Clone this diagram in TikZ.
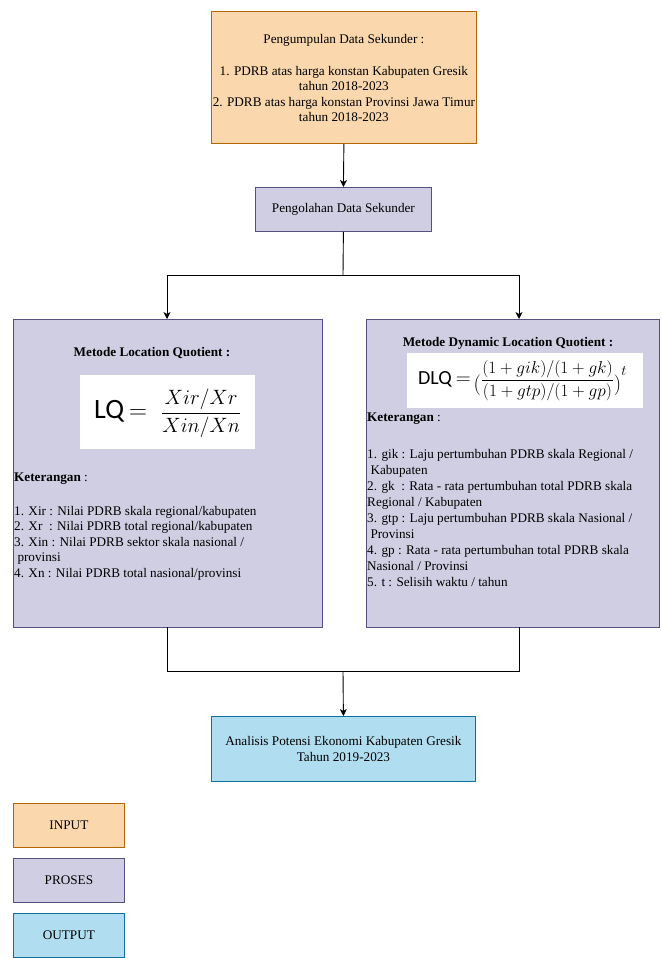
\documentclass[tikz,border=0pt]{standalone}
\usepackage{amsmath}
\usepackage{fontspec}
\setmainfont{Liberation Serif}
\newfontfamily\calib{Carlito}
\usetikzlibrary{arrows.meta}
\definecolor{inF}{HTML}{FAD7AC}
\definecolor{inS}{HTML}{B46504}
\definecolor{prF}{HTML}{D0CEE2}
\definecolor{prS}{HTML}{56517E}
\definecolor{outF}{HTML}{B1DDF0}
\definecolor{outS}{HTML}{10739E}
\tikzset{
  txt/.style={font=\fontsize{13.2}{15.5}\selectfont, inner sep=0pt},
  boxbase/.style={anchor=north west, line width=0.8pt, txt, align=center},
  inbox/.style={boxbase, draw=inS, fill=inF},
  prbox/.style={boxbase, draw=prS, fill=prF},
  outbox/.style={boxbase, draw=outS, fill=outF},
  wbox/.style={fill=white, draw=none, anchor=north west},
  link/.style={line width=0.9pt, black},
  arr/.style={link, -{Stealth[length=7pt,width=7pt,inset=2pt]}},
}
\begin{document}
\begin{tikzpicture}[x=1pt,y=-1pt]
\useasboundingbox (0,0) rectangle (661,958);

% top input box
\node[inbox, minimum width=265pt, minimum height=132pt] (collect) at (211,11) {};
\node[txt, align=center] (collecttxt) at ([yshift=-1pt]collect.center)
 {Pengumpulan Data Sekunder :\\[16pt]
  1. PDRB atas harga konstan Kabupaten Gresik\\
  tahun 2018-2023\\
  2. PDRB atas harga konstan Provinsi Jawa Timur\\
  tahun 2018-2023};

% processing box
\node[prbox, minimum width=176pt, minimum height=44pt] (proc) at (255,187)
 {Pengolahan Data Sekunder};

% left big box
\node[prbox, minimum width=309pt, minimum height=308pt] (lq) at (13,319) {};
% right big box
\node[prbox, minimum width=293pt, minimum height=308pt] (dlq) at (366,319) {};

% output box
\node[outbox, minimum width=264pt, minimum height=65pt] (out) at (211,716)
 {Analisis Potensi Ekonomi Kabupaten Gresik\\Tahun 2019-2023};

% legend
\node[inbox, minimum width=111pt, minimum height=44pt] (legin) at (13,803) {INPUT};
\node[prbox, minimum width=111pt, minimum height=44pt] (legpr) at (13,858) {PROSES};
\node[outbox, minimum width=111pt, minimum height=44pt] (legout) at (13,913) {OUTPUT};

% left box content
\node[txt, font=\fontsize{13.2}{15.5}\selectfont\bfseries] (lqtitle) at (152,353) {Metode Location Quotient :};
\node[wbox, minimum width=175pt, minimum height=74pt] (lqimg) at (80,375) {};
\node[inner sep=0pt] (lqf) at ([yshift=-1pt]lqimg.center)
 {\fontsize{28}{32}\selectfont{\calib LQ}\hspace{5pt}{\fontsize{26}{30}\selectfont$=$}\hspace{14pt}{\fontsize{21}{26}\selectfont$\dfrac{Xir/Xr}{Xin/Xn}$}};
\node[txt, anchor=north west, align=left] (lqnote) at (14,473)
 {\textbf{Keterangan} :\\[18pt]
  1. Xir : Nilai PDRB skala regional/kabupaten\\
  2. Xr\ \ : Nilai PDRB total regional/kabupaten\\
  3. Xin : Nilai PDRB sektor skala nasional /\\
  \ provinsi\\
  4. Xn : Nilai PDRB total nasional/provinsi};

% right box content
\node[txt, font=\fontsize{13.2}{15.5}\selectfont\bfseries] (dlqtitle) at (508,343) {Metode Dynamic Location Quotient :};
\node[wbox, minimum width=236pt, minimum height=55pt] (dlqimg) at (407,353) {};
\node[inner sep=0pt] (dlqf) at ([xshift=-3pt,yshift=0pt]dlqimg.center)
 {\fontsize{20}{24}\selectfont{\calib DLQ}\hspace{4pt}$=$\hspace{3pt}\raisebox{-6pt}{$($}{\fontsize{17.5}{20}\selectfont$\dfrac{(1+gik)/(1+gk)}{(1+gtp)/(1+gp)}$}\raisebox{-6pt}{$)$}\raisebox{9pt}{\fontsize{14}{16}\selectfont$t$}};
\node[txt, anchor=north west, align=left, font=\fontsize{13.2}{16}\selectfont] (dlqnote) at (367,413)
 {\textbf{Keterangan} :\\[21pt]
  1. gik : Laju pertumbuhan PDRB skala Regional /\\
  \ Kabupaten\\
  2. gk\ \ : Rata - rata pertumbuhan total PDRB skala\\
  Regional / Kabupaten\\
  3. gtp : Laju pertumbuhan PDRB skala Nasional /\\
  \ Provinsi\\
  4. gp : Rata - rata pertumbuhan total PDRB skala\\
  Nasional / Provinsi\\
  5. t : Selisih waktu / tahun};

% connectors
\coordinate (split) at (343,275);
\coordinate (merge) at (343,671);
\coordinate (lqin) at (167,319);
\coordinate (dlqin) at (519,319);
\coordinate (lqout) at (167,627);
\coordinate (dlqout) at (519,627);
\draw[arr] (collect.south) -- (proc.north);
\draw[link] (proc.south) -- (split);
\draw[arr] (split) -| (lqin);
\draw[arr] (split) -| (dlqin);
\draw[link] (lqout) |- (merge);
\draw[link] (dlqout) |- (merge);
\draw[arr] (merge) -- (out.north);
\end{tikzpicture}
\end{document}
